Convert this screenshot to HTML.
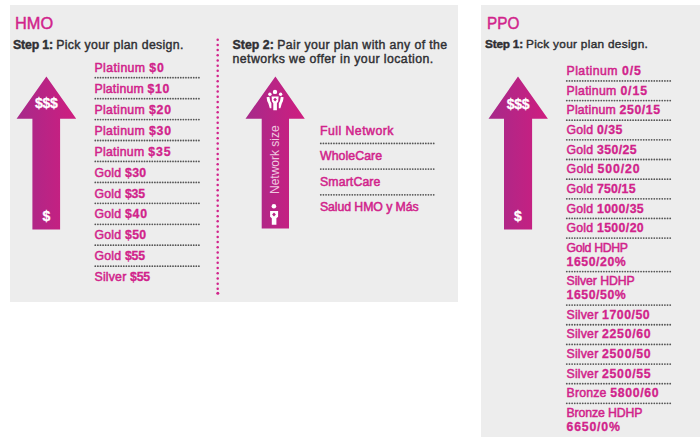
<!DOCTYPE html>
<html><head><meta charset="utf-8"><style>
html,body{margin:0;padding:0;background:#fff;width:700px;height:437px;overflow:hidden;position:relative}
body{font-family:"Liberation Sans",sans-serif}
.p{position:absolute;background:#ededed}
.t{position:absolute;white-space:nowrap}
.k{-webkit-text-stroke:0.3px #2f2f33}
.d{position:absolute;height:1.6px;background:repeating-linear-gradient(90deg,#5a5a5a 0 1.5px,transparent 1.5px 2.6px)}
.m{-webkit-text-stroke:0.3px #d1238b}
</style></head><body>
<div class="p" style="left:10px;top:5px;width:448px;height:297px"></div>
<div class="p" style="left:481px;top:5px;width:219px;height:432px"></div>
<div class="t " style="left:15.2px;top:14.31px;font-size:17px;line-height:20.4px;color:#d1238b;font-weight:normal;letter-spacing:0px;transform:scaleX(0.96);transform-origin:0 0;-webkit-text-stroke:0.45px #d1238b">HMO</div>
<div class="t " style="left:13px;top:37.76px;font-size:12.3px;line-height:14.76px;color:#2f2f33;font-weight:normal;letter-spacing:0.32px;-webkit-text-stroke:0.42px #2f2f33"><b style="letter-spacing:-0.14px">Step 1: </b>Pick your plan design.</div>
<svg class="a" width="700" height="437" style="position:absolute;left:0;top:0"><defs><linearGradient id="g1" gradientUnits="userSpaceOnUse" x1="16.6" y1="0" x2="76.2" y2="0"><stop offset="0" stop-color="#a62a8a"/><stop offset="1" stop-color="#cf1d7f"/></linearGradient></defs><polygon points="46.4,76.6 76.2,118.7 60.1,118.7 60.1,229.5 32.4,229.5 32.4,118.7 16.6,118.7" fill="url(#g1)"/></svg>
<div class="t " style="left:34px;top:95.35px;font-size:14px;line-height:16.8px;color:#fff;font-weight:bold;letter-spacing:0px;width:30px;text-align:center;left:31.3px;-webkit-text-stroke:0.3px #fff;letter-spacing:-0.3px">$$$</div>
<div class="t " style="left:40px;top:207.75px;font-size:14px;line-height:16.8px;color:#fff;font-weight:bold;letter-spacing:0px;width:14px;text-align:center;left:39.5px;-webkit-text-stroke:0.3px #fff">$</div>
<div class="t m" style="left:94.5px;top:60.86px;font-size:12.3px;line-height:14.76px;color:#d1238b;font-weight:bold;letter-spacing:0px;"><span style="font-weight:normal;-webkit-text-stroke:0.5px #d1238b;letter-spacing:0.394px">Platinum </span><span style="letter-spacing:0.900px">$0</span></div>

<div class="t m" style="left:94.5px;top:81.80px;font-size:12.3px;line-height:14.76px;color:#d1238b;font-weight:bold;letter-spacing:0px;"><span style="font-weight:normal;-webkit-text-stroke:0.5px #d1238b;letter-spacing:0.200px">Platinum </span><span style="letter-spacing:0.652px">$10</span></div>

<div class="t m" style="left:94.5px;top:102.74px;font-size:12.3px;line-height:14.76px;color:#d1238b;font-weight:bold;letter-spacing:0px;"><span style="font-weight:normal;-webkit-text-stroke:0.5px #d1238b;letter-spacing:0.345px">Platinum </span><span style="letter-spacing:0.900px">$20</span></div>

<div class="t m" style="left:94.5px;top:123.68px;font-size:12.3px;line-height:14.76px;color:#d1238b;font-weight:bold;letter-spacing:0px;"><span style="font-weight:normal;-webkit-text-stroke:0.5px #d1238b;letter-spacing:0.345px">Platinum </span><span style="letter-spacing:0.900px">$30</span></div>

<div class="t m" style="left:94.5px;top:144.62px;font-size:12.3px;line-height:14.76px;color:#d1238b;font-weight:bold;letter-spacing:0px;"><span style="font-weight:normal;-webkit-text-stroke:0.5px #d1238b;letter-spacing:0.267px">Platinum </span><span style="letter-spacing:0.900px">$35</span></div>

<div class="t m" style="left:94.5px;top:165.56px;font-size:12.3px;line-height:14.76px;color:#d1238b;font-weight:bold;letter-spacing:0px;"><span style="font-weight:normal;-webkit-text-stroke:0.5px #d1238b;letter-spacing:0.200px">Gold </span><span style="letter-spacing:0.381px">$30</span></div>

<div class="t m" style="left:94.5px;top:186.50px;font-size:12.3px;line-height:14.76px;color:#d1238b;font-weight:bold;letter-spacing:0px;"><span style="font-weight:normal;-webkit-text-stroke:0.5px #d1238b;letter-spacing:0.200px">Gold </span><span style="letter-spacing:-0.219px">$35</span></div>

<div class="t m" style="left:94.5px;top:207.44px;font-size:12.3px;line-height:14.76px;color:#d1238b;font-weight:bold;letter-spacing:0px;"><span style="font-weight:normal;-webkit-text-stroke:0.5px #d1238b;letter-spacing:0.200px">Gold </span><span style="letter-spacing:0.831px">$40</span></div>

<div class="t m" style="left:94.5px;top:228.38px;font-size:12.3px;line-height:14.76px;color:#d1238b;font-weight:bold;letter-spacing:0px;"><span style="font-weight:normal;-webkit-text-stroke:0.5px #d1238b;letter-spacing:0.200px">Gold </span><span style="letter-spacing:0.381px">$50</span></div>

<div class="t m" style="left:94.5px;top:249.32px;font-size:12.3px;line-height:14.76px;color:#d1238b;font-weight:bold;letter-spacing:0px;"><span style="font-weight:normal;-webkit-text-stroke:0.5px #d1238b;letter-spacing:0.200px">Gold </span><span style="letter-spacing:-0.219px">$55</span></div>

<div class="t m" style="left:94.5px;top:270.26px;font-size:12.3px;line-height:14.76px;color:#d1238b;font-weight:bold;letter-spacing:0px;"><span style="font-weight:normal;-webkit-text-stroke:0.5px #d1238b;letter-spacing:0.200px">Silver </span><span style="letter-spacing:-0.252px">$55</span></div>
<svg width="700" height="437" style="position:absolute;left:0;top:0"><g fill="#d1238b"><circle cx="217.7" cy="39.70" r="1.25"/><circle cx="217.7" cy="44.89" r="1.25"/><circle cx="217.7" cy="50.08" r="1.25"/><circle cx="217.7" cy="55.27" r="1.25"/><circle cx="217.7" cy="60.46" r="1.25"/><circle cx="217.7" cy="65.65" r="1.25"/><circle cx="217.7" cy="70.84" r="1.25"/><circle cx="217.7" cy="76.03" r="1.25"/><circle cx="217.7" cy="81.22" r="1.25"/><circle cx="217.7" cy="86.41" r="1.25"/><circle cx="217.7" cy="91.60" r="1.25"/><circle cx="217.7" cy="96.79" r="1.25"/><circle cx="217.7" cy="101.98" r="1.25"/><circle cx="217.7" cy="107.17" r="1.25"/><circle cx="217.7" cy="112.36" r="1.25"/><circle cx="217.7" cy="117.55" r="1.25"/><circle cx="217.7" cy="122.74" r="1.25"/><circle cx="217.7" cy="127.93" r="1.25"/><circle cx="217.7" cy="133.12" r="1.25"/><circle cx="217.7" cy="138.31" r="1.25"/><circle cx="217.7" cy="143.50" r="1.25"/><circle cx="217.7" cy="148.69" r="1.25"/><circle cx="217.7" cy="153.88" r="1.25"/><circle cx="217.7" cy="159.07" r="1.25"/><circle cx="217.7" cy="164.26" r="1.25"/><circle cx="217.7" cy="169.45" r="1.25"/><circle cx="217.7" cy="174.64" r="1.25"/><circle cx="217.7" cy="179.83" r="1.25"/><circle cx="217.7" cy="185.02" r="1.25"/><circle cx="217.7" cy="190.21" r="1.25"/><circle cx="217.7" cy="195.40" r="1.25"/><circle cx="217.7" cy="200.59" r="1.25"/><circle cx="217.7" cy="205.78" r="1.25"/><circle cx="217.7" cy="210.97" r="1.25"/><circle cx="217.7" cy="216.16" r="1.25"/><circle cx="217.7" cy="221.35" r="1.25"/><circle cx="217.7" cy="226.54" r="1.25"/><circle cx="217.7" cy="231.73" r="1.25"/><circle cx="217.7" cy="236.92" r="1.25"/><circle cx="217.7" cy="242.11" r="1.25"/><circle cx="217.7" cy="247.30" r="1.25"/><circle cx="217.7" cy="252.49" r="1.25"/><circle cx="217.7" cy="257.68" r="1.25"/><circle cx="217.7" cy="262.87" r="1.25"/><circle cx="217.7" cy="268.06" r="1.25"/><circle cx="217.7" cy="273.25" r="1.25"/><circle cx="217.7" cy="278.44" r="1.25"/><circle cx="217.7" cy="283.63" r="1.25"/><circle cx="217.7" cy="288.82" r="1.25"/><circle cx="217.8" cy="293.2" r="1.5"/></g></svg>
<div class="t " style="left:232.5px;top:37.56px;font-size:12.3px;line-height:14.76px;color:#2f2f33;font-weight:normal;letter-spacing:0.39px;-webkit-text-stroke:0.42px #2f2f33"><b style="letter-spacing:0.04px">Step 2: </b>Pair your plan with any of the</div>
<div class="t " style="left:232.5px;top:51.66px;font-size:12.3px;line-height:14.76px;color:#2f2f33;font-weight:normal;letter-spacing:0.44px;-webkit-text-stroke:0.42px #2f2f33">networks we offer in your location.</div>
<svg class="a" width="700" height="437" style="position:absolute;left:0;top:0"><defs><linearGradient id="g2" gradientUnits="userSpaceOnUse" x1="245.5" y1="0" x2="304.8" y2="0"><stop offset="0" stop-color="#a62a8a"/><stop offset="1" stop-color="#cf1d7f"/></linearGradient></defs><polygon points="275.4,76.4 304.8,118.7 289,118.7 289,228.4 261.7,228.4 261.7,118.7 245.5,118.7" fill="url(#g2)"/></svg>
<div class="t " style="left:0px;top:-11.36px;font-size:12px;line-height:14.4px;color:#f0c8e0;font-weight:normal;letter-spacing:0px;left:241px;top:153px;width:68px;text-align:center;transform:rotate(-90deg);line-height:14px">Network size</div>
<svg width="700" height="437" style="position:absolute;left:0;top:0"><g fill="#fff"><circle cx="275" cy="91.9" r="2.2"/><circle cx="269.9" cy="94.3" r="1.7"/><circle cx="280.6" cy="94.3" r="1.7"/><path fill-rule="evenodd" d="M271.6,96.5 L278.6,96.5 L278.2,101.6 L276.9,103.2 L276.9,110.3 L273.3,110.3 L273.3,103.2 L272,101.6 Z M275.1,97.8 L276.9,99.6 L275.1,101.4 L273.3,99.6 Z"/><path d="M266.6,97.2 L269.4,96.8 L270.2,101 L271.4,103.2 L271.4,108.2 L269.8,108.2 L268.4,103.6 Q266.8,101 266.6,97.2 Z"/><path d="M283.6,97.2 L280.8,96.8 L280,101 L278.8,103.2 L278.8,108.2 L280.4,108.2 L281.8,103.6 Q283.4,101 283.6,97.2 Z"/><circle cx="273.9" cy="206.2" r="2.3"/><path fill-rule="evenodd" d="M270.1,210.9 L278.1,210.9 L278.1,216.7 L276.4,218.2 L276.4,224.8 L271.8,224.8 L271.8,218.2 L270.1,216.7 Z M274,212.5 L275.9,214.5 L274,216.5 L272.1,214.5 Z"/></g></svg>
<div class="t m" style="left:320px;top:123.86px;font-size:12.3px;line-height:14.76px;color:#d1238b;font-weight:bold;letter-spacing:0px;"><span style="font-weight:normal;-webkit-text-stroke:0.5px #d1238b;letter-spacing:0.460px">Full Network</span></div>

<div class="t m" style="left:320px;top:149.33px;font-size:12.3px;line-height:14.76px;color:#d1238b;font-weight:bold;letter-spacing:0px;"><span style="font-weight:normal;-webkit-text-stroke:0.5px #d1238b;letter-spacing:0.073px">WholeCare</span></div>

<div class="t m" style="left:320px;top:174.80px;font-size:12.3px;line-height:14.76px;color:#d1238b;font-weight:bold;letter-spacing:0px;"><span style="font-weight:normal;-webkit-text-stroke:0.5px #d1238b;letter-spacing:0.118px">SmartCare</span></div>

<div class="t m" style="left:320px;top:200.27px;font-size:12.3px;line-height:14.76px;color:#d1238b;font-weight:bold;letter-spacing:0px;"><span style="font-weight:normal;-webkit-text-stroke:0.5px #d1238b;letter-spacing:-0.084px">Salud HMO y Más</span></div>
<div class="t " style="left:486.8px;top:14.31px;font-size:17px;line-height:20.4px;color:#d1238b;font-weight:normal;letter-spacing:0px;transform:scaleX(0.9);transform-origin:0 0;-webkit-text-stroke:0.45px #d1238b">PPO</div>
<div class="t " style="left:485.1px;top:37.33px;font-size:11.8px;line-height:14.16px;color:#2f2f33;font-weight:normal;letter-spacing:0.31px;-webkit-text-stroke:0.42px #2f2f33"><b style="letter-spacing:-0.22px">Step 1: </b>Pick your plan design.</div>
<svg class="a" width="700" height="437" style="position:absolute;left:0;top:0"><defs><linearGradient id="g3" gradientUnits="userSpaceOnUse" x1="488.5" y1="0" x2="547.9" y2="0"><stop offset="0" stop-color="#a62a8a"/><stop offset="1" stop-color="#cf1d7f"/></linearGradient></defs><polygon points="518,76.6 547.9,118.7 532.1,118.7 532.1,229.5 504,229.5 504,118.7 488.5,118.7" fill="url(#g3)"/></svg>
<div class="t " style="left:505px;top:95.65px;font-size:14px;line-height:16.8px;color:#fff;font-weight:bold;letter-spacing:0px;width:30px;text-align:center;left:503px;-webkit-text-stroke:0.3px #fff;letter-spacing:-0.3px">$$$</div>
<div class="t " style="left:510px;top:207.75px;font-size:14px;line-height:16.8px;color:#fff;font-weight:bold;letter-spacing:0px;width:14px;text-align:center;left:511px;-webkit-text-stroke:0.3px #fff">$</div>
<div class="t m" style="left:566.5px;top:63.96px;font-size:12.3px;line-height:14.76px;color:#d1238b;font-weight:bold;letter-spacing:0px;"><span style="font-weight:normal;-webkit-text-stroke:0.5px #d1238b;letter-spacing:0.458px">Platinum </span><span style="letter-spacing:0.900px">0/5</span></div>

<div class="t m" style="left:566.5px;top:83.61px;font-size:12.3px;line-height:14.76px;color:#d1238b;font-weight:bold;letter-spacing:0px;"><span style="font-weight:normal;-webkit-text-stroke:0.5px #d1238b;letter-spacing:0.289px">Platinum </span><span style="letter-spacing:0.900px">0/15</span></div>

<div class="t m" style="left:566.5px;top:103.26px;font-size:12.3px;line-height:14.76px;color:#d1238b;font-weight:bold;letter-spacing:0px;"><span style="font-weight:normal;-webkit-text-stroke:0.5px #d1238b;letter-spacing:0.200px">Platinum </span><span style="letter-spacing:0.582px">250/15</span></div>

<div class="t m" style="left:566.5px;top:122.91px;font-size:12.3px;line-height:14.76px;color:#d1238b;font-weight:bold;letter-spacing:0px;"><span style="font-weight:normal;-webkit-text-stroke:0.5px #d1238b;letter-spacing:0.200px">Gold </span><span style="letter-spacing:0.485px">0/35</span></div>

<div class="t m" style="left:566.5px;top:142.56px;font-size:12.3px;line-height:14.76px;color:#d1238b;font-weight:bold;letter-spacing:0px;"><span style="font-weight:normal;-webkit-text-stroke:0.5px #d1238b;letter-spacing:0.200px">Gold </span><span style="letter-spacing:0.434px">350/25</span></div>

<div class="t m" style="left:566.5px;top:162.21px;font-size:12.3px;line-height:14.76px;color:#d1238b;font-weight:bold;letter-spacing:0px;"><span style="font-weight:normal;-webkit-text-stroke:0.5px #d1238b;letter-spacing:0.314px">Gold </span><span style="letter-spacing:0.900px">500/20</span></div>

<div class="t m" style="left:566.5px;top:181.86px;font-size:12.3px;line-height:14.76px;color:#d1238b;font-weight:bold;letter-spacing:0px;"><span style="font-weight:normal;-webkit-text-stroke:0.5px #d1238b;letter-spacing:0.200px">Gold </span><span style="letter-spacing:0.194px">750/15</span></div>

<div class="t m" style="left:566.5px;top:201.51px;font-size:12.3px;line-height:14.76px;color:#d1238b;font-weight:bold;letter-spacing:0px;"><span style="font-weight:normal;-webkit-text-stroke:0.5px #d1238b;letter-spacing:0.200px">Gold </span><span style="letter-spacing:0.390px">1000/35</span></div>

<div class="t m" style="left:566.5px;top:221.16px;font-size:12.3px;line-height:14.76px;color:#d1238b;font-weight:bold;letter-spacing:0px;"><span style="font-weight:normal;-webkit-text-stroke:0.5px #d1238b;letter-spacing:0.200px">Gold </span><span style="letter-spacing:0.390px">1500/20</span></div>

<div class="t m" style="left:566.5px;top:240.56px;font-size:12.3px;line-height:14.76px;color:#d1238b;font-weight:bold;letter-spacing:0px;"><span style="font-weight:normal;-webkit-text-stroke:0.5px #d1238b;letter-spacing:-0.344px">Gold HDHP</span></div>
<div class="t m" style="left:566.5px;top:254.66px;font-size:12.3px;line-height:14.76px;color:#d1238b;font-weight:bold;letter-spacing:0px;"><span style="letter-spacing:0.558px">1650/20%</span></div>

<div class="t m" style="left:566.5px;top:274.06px;font-size:12.3px;line-height:14.76px;color:#d1238b;font-weight:bold;letter-spacing:0px;"><span style="font-weight:normal;-webkit-text-stroke:0.5px #d1238b;letter-spacing:-0.072px">Silver HDHP</span></div>
<div class="t m" style="left:566.5px;top:288.16px;font-size:12.3px;line-height:14.76px;color:#d1238b;font-weight:bold;letter-spacing:0px;"><span style="letter-spacing:0.558px">1650/50%</span></div>

<div class="t m" style="left:566.5px;top:307.81px;font-size:12.3px;line-height:14.76px;color:#d1238b;font-weight:bold;letter-spacing:0px;"><span style="font-weight:normal;-webkit-text-stroke:0.5px #d1238b;letter-spacing:0.200px">Silver </span><span style="letter-spacing:0.529px">1700/50</span></div>

<div class="t m" style="left:566.5px;top:327.46px;font-size:12.3px;line-height:14.76px;color:#d1238b;font-weight:bold;letter-spacing:0px;"><span style="font-weight:normal;-webkit-text-stroke:0.5px #d1238b;letter-spacing:0.200px">Silver </span><span style="letter-spacing:0.679px">2250/60</span></div>

<div class="t m" style="left:566.5px;top:347.11px;font-size:12.3px;line-height:14.76px;color:#d1238b;font-weight:bold;letter-spacing:0px;"><span style="font-weight:normal;-webkit-text-stroke:0.5px #d1238b;letter-spacing:0.200px">Silver </span><span style="letter-spacing:0.679px">2500/50</span></div>

<div class="t m" style="left:566.5px;top:366.76px;font-size:12.3px;line-height:14.76px;color:#d1238b;font-weight:bold;letter-spacing:0px;"><span style="font-weight:normal;-webkit-text-stroke:0.5px #d1238b;letter-spacing:0.200px">Silver </span><span style="letter-spacing:0.679px">2500/55</span></div>

<div class="t m" style="left:566.5px;top:386.41px;font-size:12.3px;line-height:14.76px;color:#d1238b;font-weight:bold;letter-spacing:0px;"><span style="font-weight:normal;-webkit-text-stroke:0.5px #d1238b;letter-spacing:0.200px">Bronze </span><span style="letter-spacing:0.659px">5800/60</span></div>

<div class="t m" style="left:566.5px;top:405.81px;font-size:12.3px;line-height:14.76px;color:#d1238b;font-weight:bold;letter-spacing:0px;"><span style="font-weight:normal;-webkit-text-stroke:0.5px #d1238b;letter-spacing:-0.123px">Bronze HDHP</span></div>
<div class="t m" style="left:566.5px;top:419.91px;font-size:12.3px;line-height:14.76px;color:#d1238b;font-weight:bold;letter-spacing:0px;"><span style="letter-spacing:0.809px">6650/0%</span></div>
<svg width="700" height="437" style="position:absolute;left:0;top:0"><g fill="#555"><circle cx="95.30" cy="77.70" r="0.9"/><circle cx="97.89" cy="77.70" r="0.9"/><circle cx="100.48" cy="77.70" r="0.9"/><circle cx="103.07" cy="77.70" r="0.9"/><circle cx="105.66" cy="77.70" r="0.9"/><circle cx="108.25" cy="77.70" r="0.9"/><circle cx="110.84" cy="77.70" r="0.9"/><circle cx="113.43" cy="77.70" r="0.9"/><circle cx="116.02" cy="77.70" r="0.9"/><circle cx="118.61" cy="77.70" r="0.9"/><circle cx="121.20" cy="77.70" r="0.9"/><circle cx="123.79" cy="77.70" r="0.9"/><circle cx="126.38" cy="77.70" r="0.9"/><circle cx="128.97" cy="77.70" r="0.9"/><circle cx="131.56" cy="77.70" r="0.9"/><circle cx="134.15" cy="77.70" r="0.9"/><circle cx="136.74" cy="77.70" r="0.9"/><circle cx="139.33" cy="77.70" r="0.9"/><circle cx="141.92" cy="77.70" r="0.9"/><circle cx="144.51" cy="77.70" r="0.9"/><circle cx="147.10" cy="77.70" r="0.9"/><circle cx="149.69" cy="77.70" r="0.9"/><circle cx="152.28" cy="77.70" r="0.9"/><circle cx="154.87" cy="77.70" r="0.9"/><circle cx="157.46" cy="77.70" r="0.9"/><circle cx="160.05" cy="77.70" r="0.9"/><circle cx="162.64" cy="77.70" r="0.9"/><circle cx="165.23" cy="77.70" r="0.9"/><circle cx="167.82" cy="77.70" r="0.9"/><circle cx="170.41" cy="77.70" r="0.9"/><circle cx="173.00" cy="77.70" r="0.9"/><circle cx="175.59" cy="77.70" r="0.9"/><circle cx="178.18" cy="77.70" r="0.9"/><circle cx="180.77" cy="77.70" r="0.9"/><circle cx="183.36" cy="77.70" r="0.9"/><circle cx="185.95" cy="77.70" r="0.9"/><circle cx="188.54" cy="77.70" r="0.9"/><circle cx="191.13" cy="77.70" r="0.9"/><circle cx="193.72" cy="77.70" r="0.9"/><circle cx="196.31" cy="77.70" r="0.9"/><circle cx="198.90" cy="77.70" r="0.9"/><circle cx="95.30" cy="98.64" r="0.9"/><circle cx="97.89" cy="98.64" r="0.9"/><circle cx="100.48" cy="98.64" r="0.9"/><circle cx="103.07" cy="98.64" r="0.9"/><circle cx="105.66" cy="98.64" r="0.9"/><circle cx="108.25" cy="98.64" r="0.9"/><circle cx="110.84" cy="98.64" r="0.9"/><circle cx="113.43" cy="98.64" r="0.9"/><circle cx="116.02" cy="98.64" r="0.9"/><circle cx="118.61" cy="98.64" r="0.9"/><circle cx="121.20" cy="98.64" r="0.9"/><circle cx="123.79" cy="98.64" r="0.9"/><circle cx="126.38" cy="98.64" r="0.9"/><circle cx="128.97" cy="98.64" r="0.9"/><circle cx="131.56" cy="98.64" r="0.9"/><circle cx="134.15" cy="98.64" r="0.9"/><circle cx="136.74" cy="98.64" r="0.9"/><circle cx="139.33" cy="98.64" r="0.9"/><circle cx="141.92" cy="98.64" r="0.9"/><circle cx="144.51" cy="98.64" r="0.9"/><circle cx="147.10" cy="98.64" r="0.9"/><circle cx="149.69" cy="98.64" r="0.9"/><circle cx="152.28" cy="98.64" r="0.9"/><circle cx="154.87" cy="98.64" r="0.9"/><circle cx="157.46" cy="98.64" r="0.9"/><circle cx="160.05" cy="98.64" r="0.9"/><circle cx="162.64" cy="98.64" r="0.9"/><circle cx="165.23" cy="98.64" r="0.9"/><circle cx="167.82" cy="98.64" r="0.9"/><circle cx="170.41" cy="98.64" r="0.9"/><circle cx="173.00" cy="98.64" r="0.9"/><circle cx="175.59" cy="98.64" r="0.9"/><circle cx="178.18" cy="98.64" r="0.9"/><circle cx="180.77" cy="98.64" r="0.9"/><circle cx="183.36" cy="98.64" r="0.9"/><circle cx="185.95" cy="98.64" r="0.9"/><circle cx="188.54" cy="98.64" r="0.9"/><circle cx="191.13" cy="98.64" r="0.9"/><circle cx="193.72" cy="98.64" r="0.9"/><circle cx="196.31" cy="98.64" r="0.9"/><circle cx="198.90" cy="98.64" r="0.9"/><circle cx="95.30" cy="119.58" r="0.9"/><circle cx="97.89" cy="119.58" r="0.9"/><circle cx="100.48" cy="119.58" r="0.9"/><circle cx="103.07" cy="119.58" r="0.9"/><circle cx="105.66" cy="119.58" r="0.9"/><circle cx="108.25" cy="119.58" r="0.9"/><circle cx="110.84" cy="119.58" r="0.9"/><circle cx="113.43" cy="119.58" r="0.9"/><circle cx="116.02" cy="119.58" r="0.9"/><circle cx="118.61" cy="119.58" r="0.9"/><circle cx="121.20" cy="119.58" r="0.9"/><circle cx="123.79" cy="119.58" r="0.9"/><circle cx="126.38" cy="119.58" r="0.9"/><circle cx="128.97" cy="119.58" r="0.9"/><circle cx="131.56" cy="119.58" r="0.9"/><circle cx="134.15" cy="119.58" r="0.9"/><circle cx="136.74" cy="119.58" r="0.9"/><circle cx="139.33" cy="119.58" r="0.9"/><circle cx="141.92" cy="119.58" r="0.9"/><circle cx="144.51" cy="119.58" r="0.9"/><circle cx="147.10" cy="119.58" r="0.9"/><circle cx="149.69" cy="119.58" r="0.9"/><circle cx="152.28" cy="119.58" r="0.9"/><circle cx="154.87" cy="119.58" r="0.9"/><circle cx="157.46" cy="119.58" r="0.9"/><circle cx="160.05" cy="119.58" r="0.9"/><circle cx="162.64" cy="119.58" r="0.9"/><circle cx="165.23" cy="119.58" r="0.9"/><circle cx="167.82" cy="119.58" r="0.9"/><circle cx="170.41" cy="119.58" r="0.9"/><circle cx="173.00" cy="119.58" r="0.9"/><circle cx="175.59" cy="119.58" r="0.9"/><circle cx="178.18" cy="119.58" r="0.9"/><circle cx="180.77" cy="119.58" r="0.9"/><circle cx="183.36" cy="119.58" r="0.9"/><circle cx="185.95" cy="119.58" r="0.9"/><circle cx="188.54" cy="119.58" r="0.9"/><circle cx="191.13" cy="119.58" r="0.9"/><circle cx="193.72" cy="119.58" r="0.9"/><circle cx="196.31" cy="119.58" r="0.9"/><circle cx="198.90" cy="119.58" r="0.9"/><circle cx="95.30" cy="140.52" r="0.9"/><circle cx="97.89" cy="140.52" r="0.9"/><circle cx="100.48" cy="140.52" r="0.9"/><circle cx="103.07" cy="140.52" r="0.9"/><circle cx="105.66" cy="140.52" r="0.9"/><circle cx="108.25" cy="140.52" r="0.9"/><circle cx="110.84" cy="140.52" r="0.9"/><circle cx="113.43" cy="140.52" r="0.9"/><circle cx="116.02" cy="140.52" r="0.9"/><circle cx="118.61" cy="140.52" r="0.9"/><circle cx="121.20" cy="140.52" r="0.9"/><circle cx="123.79" cy="140.52" r="0.9"/><circle cx="126.38" cy="140.52" r="0.9"/><circle cx="128.97" cy="140.52" r="0.9"/><circle cx="131.56" cy="140.52" r="0.9"/><circle cx="134.15" cy="140.52" r="0.9"/><circle cx="136.74" cy="140.52" r="0.9"/><circle cx="139.33" cy="140.52" r="0.9"/><circle cx="141.92" cy="140.52" r="0.9"/><circle cx="144.51" cy="140.52" r="0.9"/><circle cx="147.10" cy="140.52" r="0.9"/><circle cx="149.69" cy="140.52" r="0.9"/><circle cx="152.28" cy="140.52" r="0.9"/><circle cx="154.87" cy="140.52" r="0.9"/><circle cx="157.46" cy="140.52" r="0.9"/><circle cx="160.05" cy="140.52" r="0.9"/><circle cx="162.64" cy="140.52" r="0.9"/><circle cx="165.23" cy="140.52" r="0.9"/><circle cx="167.82" cy="140.52" r="0.9"/><circle cx="170.41" cy="140.52" r="0.9"/><circle cx="173.00" cy="140.52" r="0.9"/><circle cx="175.59" cy="140.52" r="0.9"/><circle cx="178.18" cy="140.52" r="0.9"/><circle cx="180.77" cy="140.52" r="0.9"/><circle cx="183.36" cy="140.52" r="0.9"/><circle cx="185.95" cy="140.52" r="0.9"/><circle cx="188.54" cy="140.52" r="0.9"/><circle cx="191.13" cy="140.52" r="0.9"/><circle cx="193.72" cy="140.52" r="0.9"/><circle cx="196.31" cy="140.52" r="0.9"/><circle cx="198.90" cy="140.52" r="0.9"/><circle cx="95.30" cy="161.46" r="0.9"/><circle cx="97.89" cy="161.46" r="0.9"/><circle cx="100.48" cy="161.46" r="0.9"/><circle cx="103.07" cy="161.46" r="0.9"/><circle cx="105.66" cy="161.46" r="0.9"/><circle cx="108.25" cy="161.46" r="0.9"/><circle cx="110.84" cy="161.46" r="0.9"/><circle cx="113.43" cy="161.46" r="0.9"/><circle cx="116.02" cy="161.46" r="0.9"/><circle cx="118.61" cy="161.46" r="0.9"/><circle cx="121.20" cy="161.46" r="0.9"/><circle cx="123.79" cy="161.46" r="0.9"/><circle cx="126.38" cy="161.46" r="0.9"/><circle cx="128.97" cy="161.46" r="0.9"/><circle cx="131.56" cy="161.46" r="0.9"/><circle cx="134.15" cy="161.46" r="0.9"/><circle cx="136.74" cy="161.46" r="0.9"/><circle cx="139.33" cy="161.46" r="0.9"/><circle cx="141.92" cy="161.46" r="0.9"/><circle cx="144.51" cy="161.46" r="0.9"/><circle cx="147.10" cy="161.46" r="0.9"/><circle cx="149.69" cy="161.46" r="0.9"/><circle cx="152.28" cy="161.46" r="0.9"/><circle cx="154.87" cy="161.46" r="0.9"/><circle cx="157.46" cy="161.46" r="0.9"/><circle cx="160.05" cy="161.46" r="0.9"/><circle cx="162.64" cy="161.46" r="0.9"/><circle cx="165.23" cy="161.46" r="0.9"/><circle cx="167.82" cy="161.46" r="0.9"/><circle cx="170.41" cy="161.46" r="0.9"/><circle cx="173.00" cy="161.46" r="0.9"/><circle cx="175.59" cy="161.46" r="0.9"/><circle cx="178.18" cy="161.46" r="0.9"/><circle cx="180.77" cy="161.46" r="0.9"/><circle cx="183.36" cy="161.46" r="0.9"/><circle cx="185.95" cy="161.46" r="0.9"/><circle cx="188.54" cy="161.46" r="0.9"/><circle cx="191.13" cy="161.46" r="0.9"/><circle cx="193.72" cy="161.46" r="0.9"/><circle cx="196.31" cy="161.46" r="0.9"/><circle cx="198.90" cy="161.46" r="0.9"/><circle cx="95.30" cy="182.40" r="0.9"/><circle cx="97.89" cy="182.40" r="0.9"/><circle cx="100.48" cy="182.40" r="0.9"/><circle cx="103.07" cy="182.40" r="0.9"/><circle cx="105.66" cy="182.40" r="0.9"/><circle cx="108.25" cy="182.40" r="0.9"/><circle cx="110.84" cy="182.40" r="0.9"/><circle cx="113.43" cy="182.40" r="0.9"/><circle cx="116.02" cy="182.40" r="0.9"/><circle cx="118.61" cy="182.40" r="0.9"/><circle cx="121.20" cy="182.40" r="0.9"/><circle cx="123.79" cy="182.40" r="0.9"/><circle cx="126.38" cy="182.40" r="0.9"/><circle cx="128.97" cy="182.40" r="0.9"/><circle cx="131.56" cy="182.40" r="0.9"/><circle cx="134.15" cy="182.40" r="0.9"/><circle cx="136.74" cy="182.40" r="0.9"/><circle cx="139.33" cy="182.40" r="0.9"/><circle cx="141.92" cy="182.40" r="0.9"/><circle cx="144.51" cy="182.40" r="0.9"/><circle cx="147.10" cy="182.40" r="0.9"/><circle cx="149.69" cy="182.40" r="0.9"/><circle cx="152.28" cy="182.40" r="0.9"/><circle cx="154.87" cy="182.40" r="0.9"/><circle cx="157.46" cy="182.40" r="0.9"/><circle cx="160.05" cy="182.40" r="0.9"/><circle cx="162.64" cy="182.40" r="0.9"/><circle cx="165.23" cy="182.40" r="0.9"/><circle cx="167.82" cy="182.40" r="0.9"/><circle cx="170.41" cy="182.40" r="0.9"/><circle cx="173.00" cy="182.40" r="0.9"/><circle cx="175.59" cy="182.40" r="0.9"/><circle cx="178.18" cy="182.40" r="0.9"/><circle cx="180.77" cy="182.40" r="0.9"/><circle cx="183.36" cy="182.40" r="0.9"/><circle cx="185.95" cy="182.40" r="0.9"/><circle cx="188.54" cy="182.40" r="0.9"/><circle cx="191.13" cy="182.40" r="0.9"/><circle cx="193.72" cy="182.40" r="0.9"/><circle cx="196.31" cy="182.40" r="0.9"/><circle cx="198.90" cy="182.40" r="0.9"/><circle cx="95.30" cy="203.34" r="0.9"/><circle cx="97.89" cy="203.34" r="0.9"/><circle cx="100.48" cy="203.34" r="0.9"/><circle cx="103.07" cy="203.34" r="0.9"/><circle cx="105.66" cy="203.34" r="0.9"/><circle cx="108.25" cy="203.34" r="0.9"/><circle cx="110.84" cy="203.34" r="0.9"/><circle cx="113.43" cy="203.34" r="0.9"/><circle cx="116.02" cy="203.34" r="0.9"/><circle cx="118.61" cy="203.34" r="0.9"/><circle cx="121.20" cy="203.34" r="0.9"/><circle cx="123.79" cy="203.34" r="0.9"/><circle cx="126.38" cy="203.34" r="0.9"/><circle cx="128.97" cy="203.34" r="0.9"/><circle cx="131.56" cy="203.34" r="0.9"/><circle cx="134.15" cy="203.34" r="0.9"/><circle cx="136.74" cy="203.34" r="0.9"/><circle cx="139.33" cy="203.34" r="0.9"/><circle cx="141.92" cy="203.34" r="0.9"/><circle cx="144.51" cy="203.34" r="0.9"/><circle cx="147.10" cy="203.34" r="0.9"/><circle cx="149.69" cy="203.34" r="0.9"/><circle cx="152.28" cy="203.34" r="0.9"/><circle cx="154.87" cy="203.34" r="0.9"/><circle cx="157.46" cy="203.34" r="0.9"/><circle cx="160.05" cy="203.34" r="0.9"/><circle cx="162.64" cy="203.34" r="0.9"/><circle cx="165.23" cy="203.34" r="0.9"/><circle cx="167.82" cy="203.34" r="0.9"/><circle cx="170.41" cy="203.34" r="0.9"/><circle cx="173.00" cy="203.34" r="0.9"/><circle cx="175.59" cy="203.34" r="0.9"/><circle cx="178.18" cy="203.34" r="0.9"/><circle cx="180.77" cy="203.34" r="0.9"/><circle cx="183.36" cy="203.34" r="0.9"/><circle cx="185.95" cy="203.34" r="0.9"/><circle cx="188.54" cy="203.34" r="0.9"/><circle cx="191.13" cy="203.34" r="0.9"/><circle cx="193.72" cy="203.34" r="0.9"/><circle cx="196.31" cy="203.34" r="0.9"/><circle cx="198.90" cy="203.34" r="0.9"/><circle cx="95.30" cy="224.28" r="0.9"/><circle cx="97.89" cy="224.28" r="0.9"/><circle cx="100.48" cy="224.28" r="0.9"/><circle cx="103.07" cy="224.28" r="0.9"/><circle cx="105.66" cy="224.28" r="0.9"/><circle cx="108.25" cy="224.28" r="0.9"/><circle cx="110.84" cy="224.28" r="0.9"/><circle cx="113.43" cy="224.28" r="0.9"/><circle cx="116.02" cy="224.28" r="0.9"/><circle cx="118.61" cy="224.28" r="0.9"/><circle cx="121.20" cy="224.28" r="0.9"/><circle cx="123.79" cy="224.28" r="0.9"/><circle cx="126.38" cy="224.28" r="0.9"/><circle cx="128.97" cy="224.28" r="0.9"/><circle cx="131.56" cy="224.28" r="0.9"/><circle cx="134.15" cy="224.28" r="0.9"/><circle cx="136.74" cy="224.28" r="0.9"/><circle cx="139.33" cy="224.28" r="0.9"/><circle cx="141.92" cy="224.28" r="0.9"/><circle cx="144.51" cy="224.28" r="0.9"/><circle cx="147.10" cy="224.28" r="0.9"/><circle cx="149.69" cy="224.28" r="0.9"/><circle cx="152.28" cy="224.28" r="0.9"/><circle cx="154.87" cy="224.28" r="0.9"/><circle cx="157.46" cy="224.28" r="0.9"/><circle cx="160.05" cy="224.28" r="0.9"/><circle cx="162.64" cy="224.28" r="0.9"/><circle cx="165.23" cy="224.28" r="0.9"/><circle cx="167.82" cy="224.28" r="0.9"/><circle cx="170.41" cy="224.28" r="0.9"/><circle cx="173.00" cy="224.28" r="0.9"/><circle cx="175.59" cy="224.28" r="0.9"/><circle cx="178.18" cy="224.28" r="0.9"/><circle cx="180.77" cy="224.28" r="0.9"/><circle cx="183.36" cy="224.28" r="0.9"/><circle cx="185.95" cy="224.28" r="0.9"/><circle cx="188.54" cy="224.28" r="0.9"/><circle cx="191.13" cy="224.28" r="0.9"/><circle cx="193.72" cy="224.28" r="0.9"/><circle cx="196.31" cy="224.28" r="0.9"/><circle cx="198.90" cy="224.28" r="0.9"/><circle cx="95.30" cy="245.22" r="0.9"/><circle cx="97.89" cy="245.22" r="0.9"/><circle cx="100.48" cy="245.22" r="0.9"/><circle cx="103.07" cy="245.22" r="0.9"/><circle cx="105.66" cy="245.22" r="0.9"/><circle cx="108.25" cy="245.22" r="0.9"/><circle cx="110.84" cy="245.22" r="0.9"/><circle cx="113.43" cy="245.22" r="0.9"/><circle cx="116.02" cy="245.22" r="0.9"/><circle cx="118.61" cy="245.22" r="0.9"/><circle cx="121.20" cy="245.22" r="0.9"/><circle cx="123.79" cy="245.22" r="0.9"/><circle cx="126.38" cy="245.22" r="0.9"/><circle cx="128.97" cy="245.22" r="0.9"/><circle cx="131.56" cy="245.22" r="0.9"/><circle cx="134.15" cy="245.22" r="0.9"/><circle cx="136.74" cy="245.22" r="0.9"/><circle cx="139.33" cy="245.22" r="0.9"/><circle cx="141.92" cy="245.22" r="0.9"/><circle cx="144.51" cy="245.22" r="0.9"/><circle cx="147.10" cy="245.22" r="0.9"/><circle cx="149.69" cy="245.22" r="0.9"/><circle cx="152.28" cy="245.22" r="0.9"/><circle cx="154.87" cy="245.22" r="0.9"/><circle cx="157.46" cy="245.22" r="0.9"/><circle cx="160.05" cy="245.22" r="0.9"/><circle cx="162.64" cy="245.22" r="0.9"/><circle cx="165.23" cy="245.22" r="0.9"/><circle cx="167.82" cy="245.22" r="0.9"/><circle cx="170.41" cy="245.22" r="0.9"/><circle cx="173.00" cy="245.22" r="0.9"/><circle cx="175.59" cy="245.22" r="0.9"/><circle cx="178.18" cy="245.22" r="0.9"/><circle cx="180.77" cy="245.22" r="0.9"/><circle cx="183.36" cy="245.22" r="0.9"/><circle cx="185.95" cy="245.22" r="0.9"/><circle cx="188.54" cy="245.22" r="0.9"/><circle cx="191.13" cy="245.22" r="0.9"/><circle cx="193.72" cy="245.22" r="0.9"/><circle cx="196.31" cy="245.22" r="0.9"/><circle cx="198.90" cy="245.22" r="0.9"/><circle cx="95.30" cy="266.16" r="0.9"/><circle cx="97.89" cy="266.16" r="0.9"/><circle cx="100.48" cy="266.16" r="0.9"/><circle cx="103.07" cy="266.16" r="0.9"/><circle cx="105.66" cy="266.16" r="0.9"/><circle cx="108.25" cy="266.16" r="0.9"/><circle cx="110.84" cy="266.16" r="0.9"/><circle cx="113.43" cy="266.16" r="0.9"/><circle cx="116.02" cy="266.16" r="0.9"/><circle cx="118.61" cy="266.16" r="0.9"/><circle cx="121.20" cy="266.16" r="0.9"/><circle cx="123.79" cy="266.16" r="0.9"/><circle cx="126.38" cy="266.16" r="0.9"/><circle cx="128.97" cy="266.16" r="0.9"/><circle cx="131.56" cy="266.16" r="0.9"/><circle cx="134.15" cy="266.16" r="0.9"/><circle cx="136.74" cy="266.16" r="0.9"/><circle cx="139.33" cy="266.16" r="0.9"/><circle cx="141.92" cy="266.16" r="0.9"/><circle cx="144.51" cy="266.16" r="0.9"/><circle cx="147.10" cy="266.16" r="0.9"/><circle cx="149.69" cy="266.16" r="0.9"/><circle cx="152.28" cy="266.16" r="0.9"/><circle cx="154.87" cy="266.16" r="0.9"/><circle cx="157.46" cy="266.16" r="0.9"/><circle cx="160.05" cy="266.16" r="0.9"/><circle cx="162.64" cy="266.16" r="0.9"/><circle cx="165.23" cy="266.16" r="0.9"/><circle cx="167.82" cy="266.16" r="0.9"/><circle cx="170.41" cy="266.16" r="0.9"/><circle cx="173.00" cy="266.16" r="0.9"/><circle cx="175.59" cy="266.16" r="0.9"/><circle cx="178.18" cy="266.16" r="0.9"/><circle cx="180.77" cy="266.16" r="0.9"/><circle cx="183.36" cy="266.16" r="0.9"/><circle cx="185.95" cy="266.16" r="0.9"/><circle cx="188.54" cy="266.16" r="0.9"/><circle cx="191.13" cy="266.16" r="0.9"/><circle cx="193.72" cy="266.16" r="0.9"/><circle cx="196.31" cy="266.16" r="0.9"/><circle cx="198.90" cy="266.16" r="0.9"/><circle cx="320.80" cy="143.40" r="0.9"/><circle cx="323.43" cy="143.40" r="0.9"/><circle cx="326.05" cy="143.40" r="0.9"/><circle cx="328.68" cy="143.40" r="0.9"/><circle cx="331.30" cy="143.40" r="0.9"/><circle cx="333.93" cy="143.40" r="0.9"/><circle cx="336.55" cy="143.40" r="0.9"/><circle cx="339.18" cy="143.40" r="0.9"/><circle cx="341.80" cy="143.40" r="0.9"/><circle cx="344.43" cy="143.40" r="0.9"/><circle cx="347.06" cy="143.40" r="0.9"/><circle cx="349.68" cy="143.40" r="0.9"/><circle cx="352.31" cy="143.40" r="0.9"/><circle cx="354.93" cy="143.40" r="0.9"/><circle cx="357.56" cy="143.40" r="0.9"/><circle cx="360.18" cy="143.40" r="0.9"/><circle cx="362.81" cy="143.40" r="0.9"/><circle cx="365.43" cy="143.40" r="0.9"/><circle cx="368.06" cy="143.40" r="0.9"/><circle cx="370.69" cy="143.40" r="0.9"/><circle cx="373.31" cy="143.40" r="0.9"/><circle cx="375.94" cy="143.40" r="0.9"/><circle cx="378.56" cy="143.40" r="0.9"/><circle cx="381.19" cy="143.40" r="0.9"/><circle cx="383.81" cy="143.40" r="0.9"/><circle cx="386.44" cy="143.40" r="0.9"/><circle cx="389.07" cy="143.40" r="0.9"/><circle cx="391.69" cy="143.40" r="0.9"/><circle cx="394.32" cy="143.40" r="0.9"/><circle cx="396.94" cy="143.40" r="0.9"/><circle cx="399.57" cy="143.40" r="0.9"/><circle cx="402.19" cy="143.40" r="0.9"/><circle cx="404.82" cy="143.40" r="0.9"/><circle cx="407.44" cy="143.40" r="0.9"/><circle cx="410.07" cy="143.40" r="0.9"/><circle cx="412.70" cy="143.40" r="0.9"/><circle cx="415.32" cy="143.40" r="0.9"/><circle cx="417.95" cy="143.40" r="0.9"/><circle cx="420.57" cy="143.40" r="0.9"/><circle cx="423.20" cy="143.40" r="0.9"/><circle cx="425.82" cy="143.40" r="0.9"/><circle cx="428.45" cy="143.40" r="0.9"/><circle cx="431.07" cy="143.40" r="0.9"/><circle cx="433.70" cy="143.40" r="0.9"/><circle cx="320.80" cy="169.10" r="0.9"/><circle cx="323.43" cy="169.10" r="0.9"/><circle cx="326.05" cy="169.10" r="0.9"/><circle cx="328.68" cy="169.10" r="0.9"/><circle cx="331.30" cy="169.10" r="0.9"/><circle cx="333.93" cy="169.10" r="0.9"/><circle cx="336.55" cy="169.10" r="0.9"/><circle cx="339.18" cy="169.10" r="0.9"/><circle cx="341.80" cy="169.10" r="0.9"/><circle cx="344.43" cy="169.10" r="0.9"/><circle cx="347.06" cy="169.10" r="0.9"/><circle cx="349.68" cy="169.10" r="0.9"/><circle cx="352.31" cy="169.10" r="0.9"/><circle cx="354.93" cy="169.10" r="0.9"/><circle cx="357.56" cy="169.10" r="0.9"/><circle cx="360.18" cy="169.10" r="0.9"/><circle cx="362.81" cy="169.10" r="0.9"/><circle cx="365.43" cy="169.10" r="0.9"/><circle cx="368.06" cy="169.10" r="0.9"/><circle cx="370.69" cy="169.10" r="0.9"/><circle cx="373.31" cy="169.10" r="0.9"/><circle cx="375.94" cy="169.10" r="0.9"/><circle cx="378.56" cy="169.10" r="0.9"/><circle cx="381.19" cy="169.10" r="0.9"/><circle cx="383.81" cy="169.10" r="0.9"/><circle cx="386.44" cy="169.10" r="0.9"/><circle cx="389.07" cy="169.10" r="0.9"/><circle cx="391.69" cy="169.10" r="0.9"/><circle cx="394.32" cy="169.10" r="0.9"/><circle cx="396.94" cy="169.10" r="0.9"/><circle cx="399.57" cy="169.10" r="0.9"/><circle cx="402.19" cy="169.10" r="0.9"/><circle cx="404.82" cy="169.10" r="0.9"/><circle cx="407.44" cy="169.10" r="0.9"/><circle cx="410.07" cy="169.10" r="0.9"/><circle cx="412.70" cy="169.10" r="0.9"/><circle cx="415.32" cy="169.10" r="0.9"/><circle cx="417.95" cy="169.10" r="0.9"/><circle cx="420.57" cy="169.10" r="0.9"/><circle cx="423.20" cy="169.10" r="0.9"/><circle cx="425.82" cy="169.10" r="0.9"/><circle cx="428.45" cy="169.10" r="0.9"/><circle cx="431.07" cy="169.10" r="0.9"/><circle cx="433.70" cy="169.10" r="0.9"/><circle cx="320.80" cy="194.80" r="0.9"/><circle cx="323.43" cy="194.80" r="0.9"/><circle cx="326.05" cy="194.80" r="0.9"/><circle cx="328.68" cy="194.80" r="0.9"/><circle cx="331.30" cy="194.80" r="0.9"/><circle cx="333.93" cy="194.80" r="0.9"/><circle cx="336.55" cy="194.80" r="0.9"/><circle cx="339.18" cy="194.80" r="0.9"/><circle cx="341.80" cy="194.80" r="0.9"/><circle cx="344.43" cy="194.80" r="0.9"/><circle cx="347.06" cy="194.80" r="0.9"/><circle cx="349.68" cy="194.80" r="0.9"/><circle cx="352.31" cy="194.80" r="0.9"/><circle cx="354.93" cy="194.80" r="0.9"/><circle cx="357.56" cy="194.80" r="0.9"/><circle cx="360.18" cy="194.80" r="0.9"/><circle cx="362.81" cy="194.80" r="0.9"/><circle cx="365.43" cy="194.80" r="0.9"/><circle cx="368.06" cy="194.80" r="0.9"/><circle cx="370.69" cy="194.80" r="0.9"/><circle cx="373.31" cy="194.80" r="0.9"/><circle cx="375.94" cy="194.80" r="0.9"/><circle cx="378.56" cy="194.80" r="0.9"/><circle cx="381.19" cy="194.80" r="0.9"/><circle cx="383.81" cy="194.80" r="0.9"/><circle cx="386.44" cy="194.80" r="0.9"/><circle cx="389.07" cy="194.80" r="0.9"/><circle cx="391.69" cy="194.80" r="0.9"/><circle cx="394.32" cy="194.80" r="0.9"/><circle cx="396.94" cy="194.80" r="0.9"/><circle cx="399.57" cy="194.80" r="0.9"/><circle cx="402.19" cy="194.80" r="0.9"/><circle cx="404.82" cy="194.80" r="0.9"/><circle cx="407.44" cy="194.80" r="0.9"/><circle cx="410.07" cy="194.80" r="0.9"/><circle cx="412.70" cy="194.80" r="0.9"/><circle cx="415.32" cy="194.80" r="0.9"/><circle cx="417.95" cy="194.80" r="0.9"/><circle cx="420.57" cy="194.80" r="0.9"/><circle cx="423.20" cy="194.80" r="0.9"/><circle cx="425.82" cy="194.80" r="0.9"/><circle cx="428.45" cy="194.80" r="0.9"/><circle cx="431.07" cy="194.80" r="0.9"/><circle cx="433.70" cy="194.80" r="0.9"/><circle cx="566.80" cy="80.90" r="0.9"/><circle cx="569.45" cy="80.90" r="0.9"/><circle cx="572.10" cy="80.90" r="0.9"/><circle cx="574.75" cy="80.90" r="0.9"/><circle cx="577.41" cy="80.90" r="0.9"/><circle cx="580.06" cy="80.90" r="0.9"/><circle cx="582.71" cy="80.90" r="0.9"/><circle cx="585.36" cy="80.90" r="0.9"/><circle cx="588.01" cy="80.90" r="0.9"/><circle cx="590.66" cy="80.90" r="0.9"/><circle cx="593.31" cy="80.90" r="0.9"/><circle cx="595.96" cy="80.90" r="0.9"/><circle cx="598.62" cy="80.90" r="0.9"/><circle cx="601.27" cy="80.90" r="0.9"/><circle cx="603.92" cy="80.90" r="0.9"/><circle cx="606.57" cy="80.90" r="0.9"/><circle cx="609.22" cy="80.90" r="0.9"/><circle cx="611.87" cy="80.90" r="0.9"/><circle cx="614.52" cy="80.90" r="0.9"/><circle cx="617.17" cy="80.90" r="0.9"/><circle cx="619.83" cy="80.90" r="0.9"/><circle cx="622.48" cy="80.90" r="0.9"/><circle cx="625.13" cy="80.90" r="0.9"/><circle cx="627.78" cy="80.90" r="0.9"/><circle cx="630.43" cy="80.90" r="0.9"/><circle cx="633.08" cy="80.90" r="0.9"/><circle cx="635.73" cy="80.90" r="0.9"/><circle cx="638.38" cy="80.90" r="0.9"/><circle cx="641.04" cy="80.90" r="0.9"/><circle cx="643.69" cy="80.90" r="0.9"/><circle cx="646.34" cy="80.90" r="0.9"/><circle cx="648.99" cy="80.90" r="0.9"/><circle cx="651.64" cy="80.90" r="0.9"/><circle cx="654.29" cy="80.90" r="0.9"/><circle cx="656.94" cy="80.90" r="0.9"/><circle cx="659.59" cy="80.90" r="0.9"/><circle cx="662.25" cy="80.90" r="0.9"/><circle cx="664.90" cy="80.90" r="0.9"/><circle cx="667.55" cy="80.90" r="0.9"/><circle cx="670.20" cy="80.90" r="0.9"/><circle cx="566.80" cy="100.55" r="0.9"/><circle cx="569.45" cy="100.55" r="0.9"/><circle cx="572.10" cy="100.55" r="0.9"/><circle cx="574.75" cy="100.55" r="0.9"/><circle cx="577.41" cy="100.55" r="0.9"/><circle cx="580.06" cy="100.55" r="0.9"/><circle cx="582.71" cy="100.55" r="0.9"/><circle cx="585.36" cy="100.55" r="0.9"/><circle cx="588.01" cy="100.55" r="0.9"/><circle cx="590.66" cy="100.55" r="0.9"/><circle cx="593.31" cy="100.55" r="0.9"/><circle cx="595.96" cy="100.55" r="0.9"/><circle cx="598.62" cy="100.55" r="0.9"/><circle cx="601.27" cy="100.55" r="0.9"/><circle cx="603.92" cy="100.55" r="0.9"/><circle cx="606.57" cy="100.55" r="0.9"/><circle cx="609.22" cy="100.55" r="0.9"/><circle cx="611.87" cy="100.55" r="0.9"/><circle cx="614.52" cy="100.55" r="0.9"/><circle cx="617.17" cy="100.55" r="0.9"/><circle cx="619.83" cy="100.55" r="0.9"/><circle cx="622.48" cy="100.55" r="0.9"/><circle cx="625.13" cy="100.55" r="0.9"/><circle cx="627.78" cy="100.55" r="0.9"/><circle cx="630.43" cy="100.55" r="0.9"/><circle cx="633.08" cy="100.55" r="0.9"/><circle cx="635.73" cy="100.55" r="0.9"/><circle cx="638.38" cy="100.55" r="0.9"/><circle cx="641.04" cy="100.55" r="0.9"/><circle cx="643.69" cy="100.55" r="0.9"/><circle cx="646.34" cy="100.55" r="0.9"/><circle cx="648.99" cy="100.55" r="0.9"/><circle cx="651.64" cy="100.55" r="0.9"/><circle cx="654.29" cy="100.55" r="0.9"/><circle cx="656.94" cy="100.55" r="0.9"/><circle cx="659.59" cy="100.55" r="0.9"/><circle cx="662.25" cy="100.55" r="0.9"/><circle cx="664.90" cy="100.55" r="0.9"/><circle cx="667.55" cy="100.55" r="0.9"/><circle cx="670.20" cy="100.55" r="0.9"/><circle cx="566.80" cy="120.20" r="0.9"/><circle cx="569.45" cy="120.20" r="0.9"/><circle cx="572.10" cy="120.20" r="0.9"/><circle cx="574.75" cy="120.20" r="0.9"/><circle cx="577.41" cy="120.20" r="0.9"/><circle cx="580.06" cy="120.20" r="0.9"/><circle cx="582.71" cy="120.20" r="0.9"/><circle cx="585.36" cy="120.20" r="0.9"/><circle cx="588.01" cy="120.20" r="0.9"/><circle cx="590.66" cy="120.20" r="0.9"/><circle cx="593.31" cy="120.20" r="0.9"/><circle cx="595.96" cy="120.20" r="0.9"/><circle cx="598.62" cy="120.20" r="0.9"/><circle cx="601.27" cy="120.20" r="0.9"/><circle cx="603.92" cy="120.20" r="0.9"/><circle cx="606.57" cy="120.20" r="0.9"/><circle cx="609.22" cy="120.20" r="0.9"/><circle cx="611.87" cy="120.20" r="0.9"/><circle cx="614.52" cy="120.20" r="0.9"/><circle cx="617.17" cy="120.20" r="0.9"/><circle cx="619.83" cy="120.20" r="0.9"/><circle cx="622.48" cy="120.20" r="0.9"/><circle cx="625.13" cy="120.20" r="0.9"/><circle cx="627.78" cy="120.20" r="0.9"/><circle cx="630.43" cy="120.20" r="0.9"/><circle cx="633.08" cy="120.20" r="0.9"/><circle cx="635.73" cy="120.20" r="0.9"/><circle cx="638.38" cy="120.20" r="0.9"/><circle cx="641.04" cy="120.20" r="0.9"/><circle cx="643.69" cy="120.20" r="0.9"/><circle cx="646.34" cy="120.20" r="0.9"/><circle cx="648.99" cy="120.20" r="0.9"/><circle cx="651.64" cy="120.20" r="0.9"/><circle cx="654.29" cy="120.20" r="0.9"/><circle cx="656.94" cy="120.20" r="0.9"/><circle cx="659.59" cy="120.20" r="0.9"/><circle cx="662.25" cy="120.20" r="0.9"/><circle cx="664.90" cy="120.20" r="0.9"/><circle cx="667.55" cy="120.20" r="0.9"/><circle cx="670.20" cy="120.20" r="0.9"/><circle cx="566.80" cy="139.85" r="0.9"/><circle cx="569.45" cy="139.85" r="0.9"/><circle cx="572.10" cy="139.85" r="0.9"/><circle cx="574.75" cy="139.85" r="0.9"/><circle cx="577.41" cy="139.85" r="0.9"/><circle cx="580.06" cy="139.85" r="0.9"/><circle cx="582.71" cy="139.85" r="0.9"/><circle cx="585.36" cy="139.85" r="0.9"/><circle cx="588.01" cy="139.85" r="0.9"/><circle cx="590.66" cy="139.85" r="0.9"/><circle cx="593.31" cy="139.85" r="0.9"/><circle cx="595.96" cy="139.85" r="0.9"/><circle cx="598.62" cy="139.85" r="0.9"/><circle cx="601.27" cy="139.85" r="0.9"/><circle cx="603.92" cy="139.85" r="0.9"/><circle cx="606.57" cy="139.85" r="0.9"/><circle cx="609.22" cy="139.85" r="0.9"/><circle cx="611.87" cy="139.85" r="0.9"/><circle cx="614.52" cy="139.85" r="0.9"/><circle cx="617.17" cy="139.85" r="0.9"/><circle cx="619.83" cy="139.85" r="0.9"/><circle cx="622.48" cy="139.85" r="0.9"/><circle cx="625.13" cy="139.85" r="0.9"/><circle cx="627.78" cy="139.85" r="0.9"/><circle cx="630.43" cy="139.85" r="0.9"/><circle cx="633.08" cy="139.85" r="0.9"/><circle cx="635.73" cy="139.85" r="0.9"/><circle cx="638.38" cy="139.85" r="0.9"/><circle cx="641.04" cy="139.85" r="0.9"/><circle cx="643.69" cy="139.85" r="0.9"/><circle cx="646.34" cy="139.85" r="0.9"/><circle cx="648.99" cy="139.85" r="0.9"/><circle cx="651.64" cy="139.85" r="0.9"/><circle cx="654.29" cy="139.85" r="0.9"/><circle cx="656.94" cy="139.85" r="0.9"/><circle cx="659.59" cy="139.85" r="0.9"/><circle cx="662.25" cy="139.85" r="0.9"/><circle cx="664.90" cy="139.85" r="0.9"/><circle cx="667.55" cy="139.85" r="0.9"/><circle cx="670.20" cy="139.85" r="0.9"/><circle cx="566.80" cy="159.50" r="0.9"/><circle cx="569.45" cy="159.50" r="0.9"/><circle cx="572.10" cy="159.50" r="0.9"/><circle cx="574.75" cy="159.50" r="0.9"/><circle cx="577.41" cy="159.50" r="0.9"/><circle cx="580.06" cy="159.50" r="0.9"/><circle cx="582.71" cy="159.50" r="0.9"/><circle cx="585.36" cy="159.50" r="0.9"/><circle cx="588.01" cy="159.50" r="0.9"/><circle cx="590.66" cy="159.50" r="0.9"/><circle cx="593.31" cy="159.50" r="0.9"/><circle cx="595.96" cy="159.50" r="0.9"/><circle cx="598.62" cy="159.50" r="0.9"/><circle cx="601.27" cy="159.50" r="0.9"/><circle cx="603.92" cy="159.50" r="0.9"/><circle cx="606.57" cy="159.50" r="0.9"/><circle cx="609.22" cy="159.50" r="0.9"/><circle cx="611.87" cy="159.50" r="0.9"/><circle cx="614.52" cy="159.50" r="0.9"/><circle cx="617.17" cy="159.50" r="0.9"/><circle cx="619.83" cy="159.50" r="0.9"/><circle cx="622.48" cy="159.50" r="0.9"/><circle cx="625.13" cy="159.50" r="0.9"/><circle cx="627.78" cy="159.50" r="0.9"/><circle cx="630.43" cy="159.50" r="0.9"/><circle cx="633.08" cy="159.50" r="0.9"/><circle cx="635.73" cy="159.50" r="0.9"/><circle cx="638.38" cy="159.50" r="0.9"/><circle cx="641.04" cy="159.50" r="0.9"/><circle cx="643.69" cy="159.50" r="0.9"/><circle cx="646.34" cy="159.50" r="0.9"/><circle cx="648.99" cy="159.50" r="0.9"/><circle cx="651.64" cy="159.50" r="0.9"/><circle cx="654.29" cy="159.50" r="0.9"/><circle cx="656.94" cy="159.50" r="0.9"/><circle cx="659.59" cy="159.50" r="0.9"/><circle cx="662.25" cy="159.50" r="0.9"/><circle cx="664.90" cy="159.50" r="0.9"/><circle cx="667.55" cy="159.50" r="0.9"/><circle cx="670.20" cy="159.50" r="0.9"/><circle cx="566.80" cy="179.15" r="0.9"/><circle cx="569.45" cy="179.15" r="0.9"/><circle cx="572.10" cy="179.15" r="0.9"/><circle cx="574.75" cy="179.15" r="0.9"/><circle cx="577.41" cy="179.15" r="0.9"/><circle cx="580.06" cy="179.15" r="0.9"/><circle cx="582.71" cy="179.15" r="0.9"/><circle cx="585.36" cy="179.15" r="0.9"/><circle cx="588.01" cy="179.15" r="0.9"/><circle cx="590.66" cy="179.15" r="0.9"/><circle cx="593.31" cy="179.15" r="0.9"/><circle cx="595.96" cy="179.15" r="0.9"/><circle cx="598.62" cy="179.15" r="0.9"/><circle cx="601.27" cy="179.15" r="0.9"/><circle cx="603.92" cy="179.15" r="0.9"/><circle cx="606.57" cy="179.15" r="0.9"/><circle cx="609.22" cy="179.15" r="0.9"/><circle cx="611.87" cy="179.15" r="0.9"/><circle cx="614.52" cy="179.15" r="0.9"/><circle cx="617.17" cy="179.15" r="0.9"/><circle cx="619.83" cy="179.15" r="0.9"/><circle cx="622.48" cy="179.15" r="0.9"/><circle cx="625.13" cy="179.15" r="0.9"/><circle cx="627.78" cy="179.15" r="0.9"/><circle cx="630.43" cy="179.15" r="0.9"/><circle cx="633.08" cy="179.15" r="0.9"/><circle cx="635.73" cy="179.15" r="0.9"/><circle cx="638.38" cy="179.15" r="0.9"/><circle cx="641.04" cy="179.15" r="0.9"/><circle cx="643.69" cy="179.15" r="0.9"/><circle cx="646.34" cy="179.15" r="0.9"/><circle cx="648.99" cy="179.15" r="0.9"/><circle cx="651.64" cy="179.15" r="0.9"/><circle cx="654.29" cy="179.15" r="0.9"/><circle cx="656.94" cy="179.15" r="0.9"/><circle cx="659.59" cy="179.15" r="0.9"/><circle cx="662.25" cy="179.15" r="0.9"/><circle cx="664.90" cy="179.15" r="0.9"/><circle cx="667.55" cy="179.15" r="0.9"/><circle cx="670.20" cy="179.15" r="0.9"/><circle cx="566.80" cy="198.80" r="0.9"/><circle cx="569.45" cy="198.80" r="0.9"/><circle cx="572.10" cy="198.80" r="0.9"/><circle cx="574.75" cy="198.80" r="0.9"/><circle cx="577.41" cy="198.80" r="0.9"/><circle cx="580.06" cy="198.80" r="0.9"/><circle cx="582.71" cy="198.80" r="0.9"/><circle cx="585.36" cy="198.80" r="0.9"/><circle cx="588.01" cy="198.80" r="0.9"/><circle cx="590.66" cy="198.80" r="0.9"/><circle cx="593.31" cy="198.80" r="0.9"/><circle cx="595.96" cy="198.80" r="0.9"/><circle cx="598.62" cy="198.80" r="0.9"/><circle cx="601.27" cy="198.80" r="0.9"/><circle cx="603.92" cy="198.80" r="0.9"/><circle cx="606.57" cy="198.80" r="0.9"/><circle cx="609.22" cy="198.80" r="0.9"/><circle cx="611.87" cy="198.80" r="0.9"/><circle cx="614.52" cy="198.80" r="0.9"/><circle cx="617.17" cy="198.80" r="0.9"/><circle cx="619.83" cy="198.80" r="0.9"/><circle cx="622.48" cy="198.80" r="0.9"/><circle cx="625.13" cy="198.80" r="0.9"/><circle cx="627.78" cy="198.80" r="0.9"/><circle cx="630.43" cy="198.80" r="0.9"/><circle cx="633.08" cy="198.80" r="0.9"/><circle cx="635.73" cy="198.80" r="0.9"/><circle cx="638.38" cy="198.80" r="0.9"/><circle cx="641.04" cy="198.80" r="0.9"/><circle cx="643.69" cy="198.80" r="0.9"/><circle cx="646.34" cy="198.80" r="0.9"/><circle cx="648.99" cy="198.80" r="0.9"/><circle cx="651.64" cy="198.80" r="0.9"/><circle cx="654.29" cy="198.80" r="0.9"/><circle cx="656.94" cy="198.80" r="0.9"/><circle cx="659.59" cy="198.80" r="0.9"/><circle cx="662.25" cy="198.80" r="0.9"/><circle cx="664.90" cy="198.80" r="0.9"/><circle cx="667.55" cy="198.80" r="0.9"/><circle cx="670.20" cy="198.80" r="0.9"/><circle cx="566.80" cy="218.45" r="0.9"/><circle cx="569.45" cy="218.45" r="0.9"/><circle cx="572.10" cy="218.45" r="0.9"/><circle cx="574.75" cy="218.45" r="0.9"/><circle cx="577.41" cy="218.45" r="0.9"/><circle cx="580.06" cy="218.45" r="0.9"/><circle cx="582.71" cy="218.45" r="0.9"/><circle cx="585.36" cy="218.45" r="0.9"/><circle cx="588.01" cy="218.45" r="0.9"/><circle cx="590.66" cy="218.45" r="0.9"/><circle cx="593.31" cy="218.45" r="0.9"/><circle cx="595.96" cy="218.45" r="0.9"/><circle cx="598.62" cy="218.45" r="0.9"/><circle cx="601.27" cy="218.45" r="0.9"/><circle cx="603.92" cy="218.45" r="0.9"/><circle cx="606.57" cy="218.45" r="0.9"/><circle cx="609.22" cy="218.45" r="0.9"/><circle cx="611.87" cy="218.45" r="0.9"/><circle cx="614.52" cy="218.45" r="0.9"/><circle cx="617.17" cy="218.45" r="0.9"/><circle cx="619.83" cy="218.45" r="0.9"/><circle cx="622.48" cy="218.45" r="0.9"/><circle cx="625.13" cy="218.45" r="0.9"/><circle cx="627.78" cy="218.45" r="0.9"/><circle cx="630.43" cy="218.45" r="0.9"/><circle cx="633.08" cy="218.45" r="0.9"/><circle cx="635.73" cy="218.45" r="0.9"/><circle cx="638.38" cy="218.45" r="0.9"/><circle cx="641.04" cy="218.45" r="0.9"/><circle cx="643.69" cy="218.45" r="0.9"/><circle cx="646.34" cy="218.45" r="0.9"/><circle cx="648.99" cy="218.45" r="0.9"/><circle cx="651.64" cy="218.45" r="0.9"/><circle cx="654.29" cy="218.45" r="0.9"/><circle cx="656.94" cy="218.45" r="0.9"/><circle cx="659.59" cy="218.45" r="0.9"/><circle cx="662.25" cy="218.45" r="0.9"/><circle cx="664.90" cy="218.45" r="0.9"/><circle cx="667.55" cy="218.45" r="0.9"/><circle cx="670.20" cy="218.45" r="0.9"/><circle cx="566.80" cy="238.10" r="0.9"/><circle cx="569.45" cy="238.10" r="0.9"/><circle cx="572.10" cy="238.10" r="0.9"/><circle cx="574.75" cy="238.10" r="0.9"/><circle cx="577.41" cy="238.10" r="0.9"/><circle cx="580.06" cy="238.10" r="0.9"/><circle cx="582.71" cy="238.10" r="0.9"/><circle cx="585.36" cy="238.10" r="0.9"/><circle cx="588.01" cy="238.10" r="0.9"/><circle cx="590.66" cy="238.10" r="0.9"/><circle cx="593.31" cy="238.10" r="0.9"/><circle cx="595.96" cy="238.10" r="0.9"/><circle cx="598.62" cy="238.10" r="0.9"/><circle cx="601.27" cy="238.10" r="0.9"/><circle cx="603.92" cy="238.10" r="0.9"/><circle cx="606.57" cy="238.10" r="0.9"/><circle cx="609.22" cy="238.10" r="0.9"/><circle cx="611.87" cy="238.10" r="0.9"/><circle cx="614.52" cy="238.10" r="0.9"/><circle cx="617.17" cy="238.10" r="0.9"/><circle cx="619.83" cy="238.10" r="0.9"/><circle cx="622.48" cy="238.10" r="0.9"/><circle cx="625.13" cy="238.10" r="0.9"/><circle cx="627.78" cy="238.10" r="0.9"/><circle cx="630.43" cy="238.10" r="0.9"/><circle cx="633.08" cy="238.10" r="0.9"/><circle cx="635.73" cy="238.10" r="0.9"/><circle cx="638.38" cy="238.10" r="0.9"/><circle cx="641.04" cy="238.10" r="0.9"/><circle cx="643.69" cy="238.10" r="0.9"/><circle cx="646.34" cy="238.10" r="0.9"/><circle cx="648.99" cy="238.10" r="0.9"/><circle cx="651.64" cy="238.10" r="0.9"/><circle cx="654.29" cy="238.10" r="0.9"/><circle cx="656.94" cy="238.10" r="0.9"/><circle cx="659.59" cy="238.10" r="0.9"/><circle cx="662.25" cy="238.10" r="0.9"/><circle cx="664.90" cy="238.10" r="0.9"/><circle cx="667.55" cy="238.10" r="0.9"/><circle cx="670.20" cy="238.10" r="0.9"/><circle cx="566.80" cy="271.60" r="0.9"/><circle cx="569.45" cy="271.60" r="0.9"/><circle cx="572.10" cy="271.60" r="0.9"/><circle cx="574.75" cy="271.60" r="0.9"/><circle cx="577.41" cy="271.60" r="0.9"/><circle cx="580.06" cy="271.60" r="0.9"/><circle cx="582.71" cy="271.60" r="0.9"/><circle cx="585.36" cy="271.60" r="0.9"/><circle cx="588.01" cy="271.60" r="0.9"/><circle cx="590.66" cy="271.60" r="0.9"/><circle cx="593.31" cy="271.60" r="0.9"/><circle cx="595.96" cy="271.60" r="0.9"/><circle cx="598.62" cy="271.60" r="0.9"/><circle cx="601.27" cy="271.60" r="0.9"/><circle cx="603.92" cy="271.60" r="0.9"/><circle cx="606.57" cy="271.60" r="0.9"/><circle cx="609.22" cy="271.60" r="0.9"/><circle cx="611.87" cy="271.60" r="0.9"/><circle cx="614.52" cy="271.60" r="0.9"/><circle cx="617.17" cy="271.60" r="0.9"/><circle cx="619.83" cy="271.60" r="0.9"/><circle cx="622.48" cy="271.60" r="0.9"/><circle cx="625.13" cy="271.60" r="0.9"/><circle cx="627.78" cy="271.60" r="0.9"/><circle cx="630.43" cy="271.60" r="0.9"/><circle cx="633.08" cy="271.60" r="0.9"/><circle cx="635.73" cy="271.60" r="0.9"/><circle cx="638.38" cy="271.60" r="0.9"/><circle cx="641.04" cy="271.60" r="0.9"/><circle cx="643.69" cy="271.60" r="0.9"/><circle cx="646.34" cy="271.60" r="0.9"/><circle cx="648.99" cy="271.60" r="0.9"/><circle cx="651.64" cy="271.60" r="0.9"/><circle cx="654.29" cy="271.60" r="0.9"/><circle cx="656.94" cy="271.60" r="0.9"/><circle cx="659.59" cy="271.60" r="0.9"/><circle cx="662.25" cy="271.60" r="0.9"/><circle cx="664.90" cy="271.60" r="0.9"/><circle cx="667.55" cy="271.60" r="0.9"/><circle cx="670.20" cy="271.60" r="0.9"/><circle cx="566.80" cy="305.10" r="0.9"/><circle cx="569.45" cy="305.10" r="0.9"/><circle cx="572.10" cy="305.10" r="0.9"/><circle cx="574.75" cy="305.10" r="0.9"/><circle cx="577.41" cy="305.10" r="0.9"/><circle cx="580.06" cy="305.10" r="0.9"/><circle cx="582.71" cy="305.10" r="0.9"/><circle cx="585.36" cy="305.10" r="0.9"/><circle cx="588.01" cy="305.10" r="0.9"/><circle cx="590.66" cy="305.10" r="0.9"/><circle cx="593.31" cy="305.10" r="0.9"/><circle cx="595.96" cy="305.10" r="0.9"/><circle cx="598.62" cy="305.10" r="0.9"/><circle cx="601.27" cy="305.10" r="0.9"/><circle cx="603.92" cy="305.10" r="0.9"/><circle cx="606.57" cy="305.10" r="0.9"/><circle cx="609.22" cy="305.10" r="0.9"/><circle cx="611.87" cy="305.10" r="0.9"/><circle cx="614.52" cy="305.10" r="0.9"/><circle cx="617.17" cy="305.10" r="0.9"/><circle cx="619.83" cy="305.10" r="0.9"/><circle cx="622.48" cy="305.10" r="0.9"/><circle cx="625.13" cy="305.10" r="0.9"/><circle cx="627.78" cy="305.10" r="0.9"/><circle cx="630.43" cy="305.10" r="0.9"/><circle cx="633.08" cy="305.10" r="0.9"/><circle cx="635.73" cy="305.10" r="0.9"/><circle cx="638.38" cy="305.10" r="0.9"/><circle cx="641.04" cy="305.10" r="0.9"/><circle cx="643.69" cy="305.10" r="0.9"/><circle cx="646.34" cy="305.10" r="0.9"/><circle cx="648.99" cy="305.10" r="0.9"/><circle cx="651.64" cy="305.10" r="0.9"/><circle cx="654.29" cy="305.10" r="0.9"/><circle cx="656.94" cy="305.10" r="0.9"/><circle cx="659.59" cy="305.10" r="0.9"/><circle cx="662.25" cy="305.10" r="0.9"/><circle cx="664.90" cy="305.10" r="0.9"/><circle cx="667.55" cy="305.10" r="0.9"/><circle cx="670.20" cy="305.10" r="0.9"/><circle cx="566.80" cy="324.75" r="0.9"/><circle cx="569.45" cy="324.75" r="0.9"/><circle cx="572.10" cy="324.75" r="0.9"/><circle cx="574.75" cy="324.75" r="0.9"/><circle cx="577.41" cy="324.75" r="0.9"/><circle cx="580.06" cy="324.75" r="0.9"/><circle cx="582.71" cy="324.75" r="0.9"/><circle cx="585.36" cy="324.75" r="0.9"/><circle cx="588.01" cy="324.75" r="0.9"/><circle cx="590.66" cy="324.75" r="0.9"/><circle cx="593.31" cy="324.75" r="0.9"/><circle cx="595.96" cy="324.75" r="0.9"/><circle cx="598.62" cy="324.75" r="0.9"/><circle cx="601.27" cy="324.75" r="0.9"/><circle cx="603.92" cy="324.75" r="0.9"/><circle cx="606.57" cy="324.75" r="0.9"/><circle cx="609.22" cy="324.75" r="0.9"/><circle cx="611.87" cy="324.75" r="0.9"/><circle cx="614.52" cy="324.75" r="0.9"/><circle cx="617.17" cy="324.75" r="0.9"/><circle cx="619.83" cy="324.75" r="0.9"/><circle cx="622.48" cy="324.75" r="0.9"/><circle cx="625.13" cy="324.75" r="0.9"/><circle cx="627.78" cy="324.75" r="0.9"/><circle cx="630.43" cy="324.75" r="0.9"/><circle cx="633.08" cy="324.75" r="0.9"/><circle cx="635.73" cy="324.75" r="0.9"/><circle cx="638.38" cy="324.75" r="0.9"/><circle cx="641.04" cy="324.75" r="0.9"/><circle cx="643.69" cy="324.75" r="0.9"/><circle cx="646.34" cy="324.75" r="0.9"/><circle cx="648.99" cy="324.75" r="0.9"/><circle cx="651.64" cy="324.75" r="0.9"/><circle cx="654.29" cy="324.75" r="0.9"/><circle cx="656.94" cy="324.75" r="0.9"/><circle cx="659.59" cy="324.75" r="0.9"/><circle cx="662.25" cy="324.75" r="0.9"/><circle cx="664.90" cy="324.75" r="0.9"/><circle cx="667.55" cy="324.75" r="0.9"/><circle cx="670.20" cy="324.75" r="0.9"/><circle cx="566.80" cy="344.40" r="0.9"/><circle cx="569.45" cy="344.40" r="0.9"/><circle cx="572.10" cy="344.40" r="0.9"/><circle cx="574.75" cy="344.40" r="0.9"/><circle cx="577.41" cy="344.40" r="0.9"/><circle cx="580.06" cy="344.40" r="0.9"/><circle cx="582.71" cy="344.40" r="0.9"/><circle cx="585.36" cy="344.40" r="0.9"/><circle cx="588.01" cy="344.40" r="0.9"/><circle cx="590.66" cy="344.40" r="0.9"/><circle cx="593.31" cy="344.40" r="0.9"/><circle cx="595.96" cy="344.40" r="0.9"/><circle cx="598.62" cy="344.40" r="0.9"/><circle cx="601.27" cy="344.40" r="0.9"/><circle cx="603.92" cy="344.40" r="0.9"/><circle cx="606.57" cy="344.40" r="0.9"/><circle cx="609.22" cy="344.40" r="0.9"/><circle cx="611.87" cy="344.40" r="0.9"/><circle cx="614.52" cy="344.40" r="0.9"/><circle cx="617.17" cy="344.40" r="0.9"/><circle cx="619.83" cy="344.40" r="0.9"/><circle cx="622.48" cy="344.40" r="0.9"/><circle cx="625.13" cy="344.40" r="0.9"/><circle cx="627.78" cy="344.40" r="0.9"/><circle cx="630.43" cy="344.40" r="0.9"/><circle cx="633.08" cy="344.40" r="0.9"/><circle cx="635.73" cy="344.40" r="0.9"/><circle cx="638.38" cy="344.40" r="0.9"/><circle cx="641.04" cy="344.40" r="0.9"/><circle cx="643.69" cy="344.40" r="0.9"/><circle cx="646.34" cy="344.40" r="0.9"/><circle cx="648.99" cy="344.40" r="0.9"/><circle cx="651.64" cy="344.40" r="0.9"/><circle cx="654.29" cy="344.40" r="0.9"/><circle cx="656.94" cy="344.40" r="0.9"/><circle cx="659.59" cy="344.40" r="0.9"/><circle cx="662.25" cy="344.40" r="0.9"/><circle cx="664.90" cy="344.40" r="0.9"/><circle cx="667.55" cy="344.40" r="0.9"/><circle cx="670.20" cy="344.40" r="0.9"/><circle cx="566.80" cy="364.05" r="0.9"/><circle cx="569.45" cy="364.05" r="0.9"/><circle cx="572.10" cy="364.05" r="0.9"/><circle cx="574.75" cy="364.05" r="0.9"/><circle cx="577.41" cy="364.05" r="0.9"/><circle cx="580.06" cy="364.05" r="0.9"/><circle cx="582.71" cy="364.05" r="0.9"/><circle cx="585.36" cy="364.05" r="0.9"/><circle cx="588.01" cy="364.05" r="0.9"/><circle cx="590.66" cy="364.05" r="0.9"/><circle cx="593.31" cy="364.05" r="0.9"/><circle cx="595.96" cy="364.05" r="0.9"/><circle cx="598.62" cy="364.05" r="0.9"/><circle cx="601.27" cy="364.05" r="0.9"/><circle cx="603.92" cy="364.05" r="0.9"/><circle cx="606.57" cy="364.05" r="0.9"/><circle cx="609.22" cy="364.05" r="0.9"/><circle cx="611.87" cy="364.05" r="0.9"/><circle cx="614.52" cy="364.05" r="0.9"/><circle cx="617.17" cy="364.05" r="0.9"/><circle cx="619.83" cy="364.05" r="0.9"/><circle cx="622.48" cy="364.05" r="0.9"/><circle cx="625.13" cy="364.05" r="0.9"/><circle cx="627.78" cy="364.05" r="0.9"/><circle cx="630.43" cy="364.05" r="0.9"/><circle cx="633.08" cy="364.05" r="0.9"/><circle cx="635.73" cy="364.05" r="0.9"/><circle cx="638.38" cy="364.05" r="0.9"/><circle cx="641.04" cy="364.05" r="0.9"/><circle cx="643.69" cy="364.05" r="0.9"/><circle cx="646.34" cy="364.05" r="0.9"/><circle cx="648.99" cy="364.05" r="0.9"/><circle cx="651.64" cy="364.05" r="0.9"/><circle cx="654.29" cy="364.05" r="0.9"/><circle cx="656.94" cy="364.05" r="0.9"/><circle cx="659.59" cy="364.05" r="0.9"/><circle cx="662.25" cy="364.05" r="0.9"/><circle cx="664.90" cy="364.05" r="0.9"/><circle cx="667.55" cy="364.05" r="0.9"/><circle cx="670.20" cy="364.05" r="0.9"/><circle cx="566.80" cy="383.70" r="0.9"/><circle cx="569.45" cy="383.70" r="0.9"/><circle cx="572.10" cy="383.70" r="0.9"/><circle cx="574.75" cy="383.70" r="0.9"/><circle cx="577.41" cy="383.70" r="0.9"/><circle cx="580.06" cy="383.70" r="0.9"/><circle cx="582.71" cy="383.70" r="0.9"/><circle cx="585.36" cy="383.70" r="0.9"/><circle cx="588.01" cy="383.70" r="0.9"/><circle cx="590.66" cy="383.70" r="0.9"/><circle cx="593.31" cy="383.70" r="0.9"/><circle cx="595.96" cy="383.70" r="0.9"/><circle cx="598.62" cy="383.70" r="0.9"/><circle cx="601.27" cy="383.70" r="0.9"/><circle cx="603.92" cy="383.70" r="0.9"/><circle cx="606.57" cy="383.70" r="0.9"/><circle cx="609.22" cy="383.70" r="0.9"/><circle cx="611.87" cy="383.70" r="0.9"/><circle cx="614.52" cy="383.70" r="0.9"/><circle cx="617.17" cy="383.70" r="0.9"/><circle cx="619.83" cy="383.70" r="0.9"/><circle cx="622.48" cy="383.70" r="0.9"/><circle cx="625.13" cy="383.70" r="0.9"/><circle cx="627.78" cy="383.70" r="0.9"/><circle cx="630.43" cy="383.70" r="0.9"/><circle cx="633.08" cy="383.70" r="0.9"/><circle cx="635.73" cy="383.70" r="0.9"/><circle cx="638.38" cy="383.70" r="0.9"/><circle cx="641.04" cy="383.70" r="0.9"/><circle cx="643.69" cy="383.70" r="0.9"/><circle cx="646.34" cy="383.70" r="0.9"/><circle cx="648.99" cy="383.70" r="0.9"/><circle cx="651.64" cy="383.70" r="0.9"/><circle cx="654.29" cy="383.70" r="0.9"/><circle cx="656.94" cy="383.70" r="0.9"/><circle cx="659.59" cy="383.70" r="0.9"/><circle cx="662.25" cy="383.70" r="0.9"/><circle cx="664.90" cy="383.70" r="0.9"/><circle cx="667.55" cy="383.70" r="0.9"/><circle cx="670.20" cy="383.70" r="0.9"/><circle cx="566.80" cy="403.35" r="0.9"/><circle cx="569.45" cy="403.35" r="0.9"/><circle cx="572.10" cy="403.35" r="0.9"/><circle cx="574.75" cy="403.35" r="0.9"/><circle cx="577.41" cy="403.35" r="0.9"/><circle cx="580.06" cy="403.35" r="0.9"/><circle cx="582.71" cy="403.35" r="0.9"/><circle cx="585.36" cy="403.35" r="0.9"/><circle cx="588.01" cy="403.35" r="0.9"/><circle cx="590.66" cy="403.35" r="0.9"/><circle cx="593.31" cy="403.35" r="0.9"/><circle cx="595.96" cy="403.35" r="0.9"/><circle cx="598.62" cy="403.35" r="0.9"/><circle cx="601.27" cy="403.35" r="0.9"/><circle cx="603.92" cy="403.35" r="0.9"/><circle cx="606.57" cy="403.35" r="0.9"/><circle cx="609.22" cy="403.35" r="0.9"/><circle cx="611.87" cy="403.35" r="0.9"/><circle cx="614.52" cy="403.35" r="0.9"/><circle cx="617.17" cy="403.35" r="0.9"/><circle cx="619.83" cy="403.35" r="0.9"/><circle cx="622.48" cy="403.35" r="0.9"/><circle cx="625.13" cy="403.35" r="0.9"/><circle cx="627.78" cy="403.35" r="0.9"/><circle cx="630.43" cy="403.35" r="0.9"/><circle cx="633.08" cy="403.35" r="0.9"/><circle cx="635.73" cy="403.35" r="0.9"/><circle cx="638.38" cy="403.35" r="0.9"/><circle cx="641.04" cy="403.35" r="0.9"/><circle cx="643.69" cy="403.35" r="0.9"/><circle cx="646.34" cy="403.35" r="0.9"/><circle cx="648.99" cy="403.35" r="0.9"/><circle cx="651.64" cy="403.35" r="0.9"/><circle cx="654.29" cy="403.35" r="0.9"/><circle cx="656.94" cy="403.35" r="0.9"/><circle cx="659.59" cy="403.35" r="0.9"/><circle cx="662.25" cy="403.35" r="0.9"/><circle cx="664.90" cy="403.35" r="0.9"/><circle cx="667.55" cy="403.35" r="0.9"/><circle cx="670.20" cy="403.35" r="0.9"/></g></svg>
</body></html>
